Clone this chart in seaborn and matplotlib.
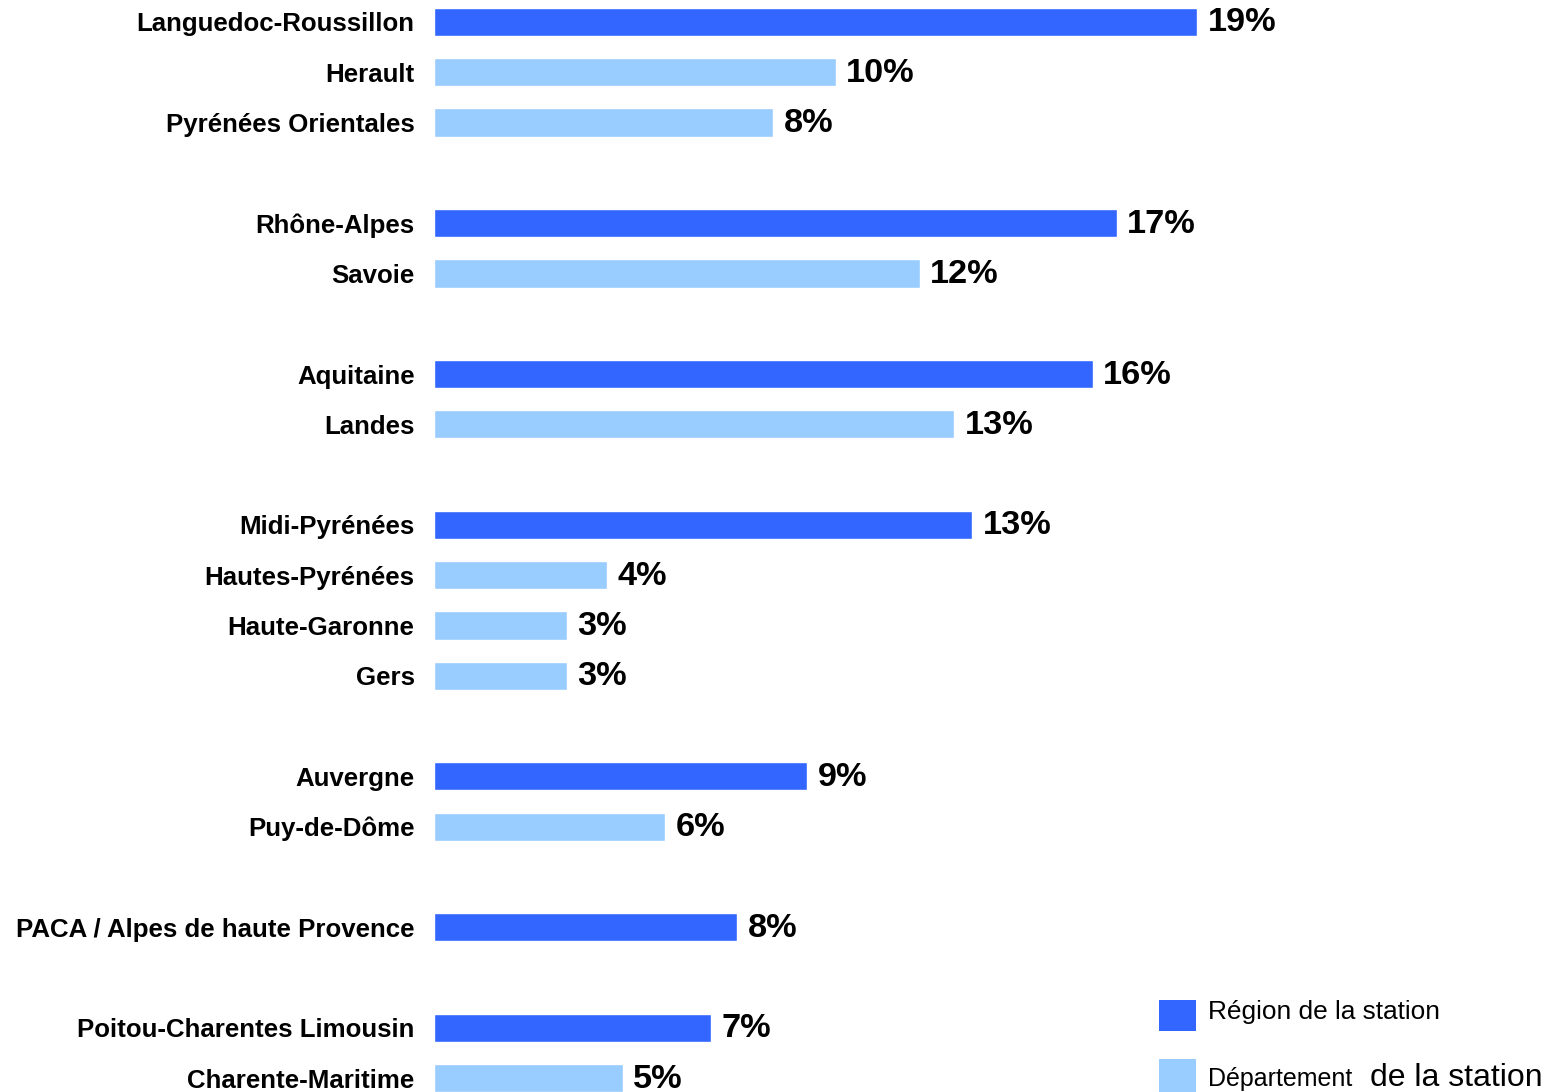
import numpy as np
import pandas as pd
import matplotlib.pyplot as plt
from matplotlib.patches import Rectangle
import seaborn as sns

labels = ["Languedoc-Roussillon", "Herault", "Pyrénées Orientales",
          "Rhône-Alpes", "Savoie",
          "Aquitaine", "Landes",
          "Midi-Pyrénées", "Hautes-Pyrénées", "Haute-Garonne", "Gers",
          "Auvergne", "Puy-de-Dôme",
          "PACA / Alpes de haute Provence",
          "Poitou-Charentes Limousin", "Charente-Maritime"]
values = [19.0, 10.0, 8.45,
          17.0, 12.1,
          16.4, 12.95,
          13.4, 4.3, 3.3, 3.3,
          9.3, 5.75,
          7.55,
          6.9, 4.7]
kinds = ["Région", "Département", "Département",
         "Région", "Département",
         "Région", "Département",
         "Région", "Département", "Département", "Département",
         "Région", "Département",
         "Région",
         "Région", "Département"]
group_sizes = [3, 2, 2, 4, 2, 1, 2]

# slot positions: one empty slot between groups
pos = []
slot = 0
for n in group_sizes:
    pos.extend(range(slot, slot + n))
    slot += n + 1

df = pd.DataFrame({"label": labels, "value": values, "kind": kinds, "pos": pos})

sns.set_style("white")
plt.rcParams["font.family"] = ["Liberation Sans", "DejaVu Sans"]
plt.rcParams["text.color"] = "black"
plt.rcParams["ytick.color"] = "black"

dark = "#3366FF"
light = "#99CCFF"
palette = {"Région": dark, "Département": light}

fig = plt.figure(figsize=(15.56, 10.92), dpi=100)
ax = fig.add_axes([434 / 1556, 0, 1 - 434 / 1556, 1])

sns.barplot(data=df, x="value", y="pos", hue="kind", orient="h",
            native_scale=True, palette=palette, width=0.56, dodge=False,
            legend=False, saturation=1, ax=ax)

ax.set_xlim(0, 1122 / 40.16)
ax.set_ylim(1070 / 50.29, -22 / 50.29)
ax.set_yticks(pos)
ax.set_yticklabels(labels, fontsize=18.6, fontweight="bold", color="black")
for t in ax.get_yticklabels():
    t.set_va("center_baseline")
ax.tick_params(axis="y", length=0, pad=14)
ax.set_xticks([])
ax.set_xlabel("")
ax.set_ylabel("")
sns.despine(ax=ax, left=True, bottom=True)

for v, p in zip(values, pos):
    ax.annotate(f"{v:.0f}%", xy=(v, p), xytext=(7.5, -0.7), textcoords="offset points",
                va="center", ha="left", fontsize=24.7, fontweight="bold", color="black")

# legend
fig.add_artist(Rectangle((1159 / 1556, 1 - 1031 / 1092), 37 / 1556, 31 / 1092,
                         transform=fig.transFigure, color=dark, lw=0))
fig.add_artist(Rectangle((1159 / 1556, 1 - 1092 / 1092), 37 / 1556, 33 / 1092,
                         transform=fig.transFigure, color=light, lw=0))
fig.text(1208 / 1556, 1 - 1019 / 1092, "Région de la station", fontsize=18.9,
         va="baseline", ha="left", color="black")
fig.text(1208 / 1556, 1 - 1086 / 1092, "Département", fontsize=18,
         va="baseline", ha="left", color="black")
fig.text(1370 / 1556, 1 - 1086 / 1092, "de la station", fontsize=23,
         va="baseline", ha="left", color="black")

fig.savefig("out.png", dpi=100)
